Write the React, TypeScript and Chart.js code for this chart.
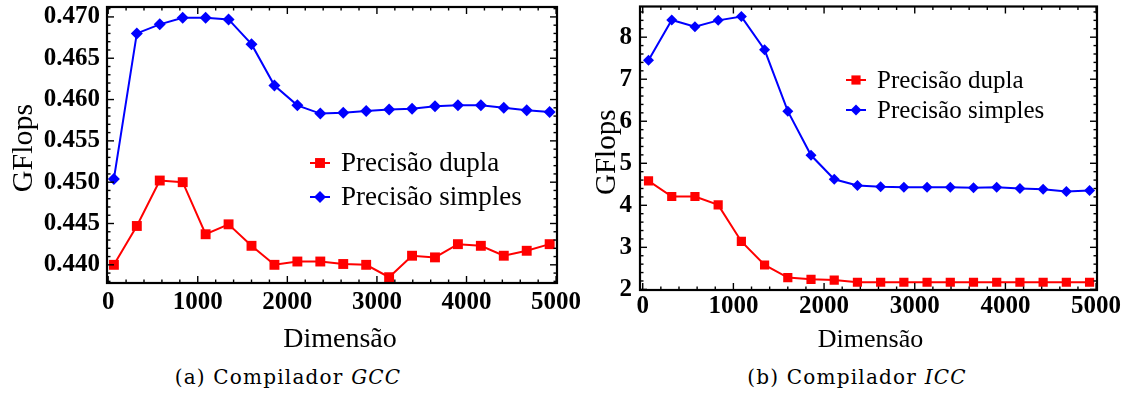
import React, { useEffect, useRef } from "react";
import { Chart, registerables } from "chart.js";
import { drawPoint } from "chart.js/helpers";

Chart.register(...registerables);

// Matrix dimension of each run
const dimensions = [64, 320, 576, 832, 1088, 1344, 1600, 1856, 2112, 2368, 2624, 2880, 3136, 3392, 3648, 3904, 4160, 4416, 4672, 4928];

// GFlops measured with GCC
const gccDouble = [0.44, 0.4447, 0.4502, 0.45, 0.4437, 0.4449, 0.4423, 0.44, 0.4404, 0.4404, 0.4401, 0.44, 0.4385, 0.4411, 0.4409, 0.4425, 0.4423, 0.4411, 0.4417, 0.4425];
const gccSingle = [0.4504, 0.468, 0.4691, 0.4699, 0.4699, 0.4697, 0.4667, 0.4617, 0.4593, 0.4583, 0.4584, 0.4586, 0.4588, 0.4589, 0.4592, 0.4593, 0.4593, 0.459, 0.4587, 0.4585];

// GFlops measured with ICC
const iccDouble = [4.58, 4.21, 4.21, 4.01, 3.14, 2.58, 2.28, 2.24, 2.22, 2.17, 2.17, 2.17, 2.17, 2.17, 2.17, 2.17, 2.17, 2.17, 2.17, 2.17];
const iccSingle = [7.45, 8.41, 8.25, 8.4, 8.49, 7.7, 6.24, 5.19, 4.62, 4.47, 4.44, 4.43, 4.43, 4.43, 4.42, 4.43, 4.4, 4.38, 4.33, 4.35];

const xTicks = [0, 1000, 2000, 3000, 4000, 5000];
const gccYTicks = [0.44, 0.445, 0.45, 0.455, 0.46, 0.465, 0.47];
const iccYTicks = [2, 3, 4, 5, 6, 7, 8];

const seriesNames = ["Precisão dupla", "Precisão simples"];
const xTitle = "Dimensão";
const yTitle = "GFlops";

const RED = "#ff0000";
const BLUE = "#0000ff";
const SERIF = "'Liberation Serif', 'Times New Roman', serif";

// Closed frame with inward major and minor ticks on all four sides
const framePlugin = {
  id: "frame",
  afterDatasetsDraw(chart: any, _args: any, opts: any) {
    const { ctx, chartArea: a, scales } = chart;
    const sx = scales.x;
    const sy = scales.y;
    ctx.save();
    ctx.strokeStyle = "#000";
    const seg = (x1: number, y1: number, x2: number, y2: number) => {
      ctx.beginPath();
      ctx.moveTo(x1, y1);
      ctx.lineTo(x2, y2);
      ctx.stroke();
    };
    const each = (scale: any, major: number[], minorStep: number, fn: (p: number, len: number) => void) => {
      const lo = Math.ceil(scale.min / minorStep - 1e-9);
      const hi = Math.floor(scale.max / minorStep + 1e-9);
      for (let n = lo; n <= hi; n++) {
        const v = n * minorStep;
        const isMajor = major.some((m) => Math.abs(m - v) < minorStep / 10);
        fn(scale.getPixelForValue(v), isMajor ? 7 : 3.5);
      }
    };
    ctx.lineWidth = 1.4;
    each(sx, opts.xMajor, opts.xMinor, (p, len) => {
      seg(p, a.bottom, p, a.bottom - len);
      seg(p, a.top, p, a.top + len);
    });
    each(sy, opts.yMajor, opts.yMinor, (p, len) => {
      seg(a.left, p, a.left + len, p);
      seg(a.right, p, a.right - len, p);
    });
    ctx.lineWidth = 2.2;
    ctx.strokeRect(a.left, a.top, a.right - a.left, a.bottom - a.top);
    ctx.restore();
  },
};

// Axis titles and in-plot legend
const textPlugin = {
  id: "texts",
  afterDraw(chart: any, _args: any, opts: any) {
    const { ctx, chartArea: a } = chart;
    ctx.save();
    ctx.fillStyle = "#000";
    ctx.textAlign = "center";
    ctx.textBaseline = "middle";
    ctx.font = `${opts.xTitleSize}px ${SERIF}`;
    ctx.fillText(xTitle, (a.left + a.right) / 2 + opts.xTitleShift, opts.xTitleY);
    ctx.font = `${opts.yTitleSize}px ${SERIF}`;
    ctx.translate(opts.yTitleX, (a.top + a.bottom) / 2 + opts.yTitleShift);
    ctx.rotate(-Math.PI / 2);
    ctx.fillText(yTitle, 0, 0);
    ctx.restore();

    ctx.save();
    const lg = opts.legend;
    ctx.font = `${lg.size}px ${SERIF}`;
    ctx.textAlign = "left";
    ctx.textBaseline = "middle";
    chart.data.datasets.forEach((ds: any, i: number) => {
      const y = lg.y + i * lg.gap;
      ctx.strokeStyle = ds.borderColor;
      ctx.lineWidth = ds.borderWidth;
      ctx.beginPath();
      ctx.moveTo(lg.x - 10, y);
      ctx.lineTo(lg.x + 10, y);
      ctx.stroke();
      ctx.fillStyle = ds.pointBackgroundColor;
      drawPoint(ctx, { pointStyle: ds.pointStyle, radius: ds.pointRadius, borderWidth: 0, rotation: 0 }, lg.x, y);
      ctx.fillStyle = "#000";
      ctx.fillText(ds.label, lg.x + 21, y + 1);
    });
    ctx.restore();
  },
};

type PanelProps = {
  width: number;
  height: number;
  left: number;
  double: number[];
  single: number[];
  yTicks: number[];
  yMin: number;
  yMax: number;
  xMin: number;
  xMax: number;
  yDecimals: number;
  yMinor: number;
  yAxisWidth: number;
  padTop: number;
  padRight: number;
  plotBottom: number;
  yTickPad: number;
  xTickPad: number;
  rectRadius: number;
  diamondRadius: number;
  texts: any;
};

function Panel(p: PanelProps) {
  const ref = useRef<HTMLCanvasElement>(null);
  useEffect(() => {
    const tickFont = { family: SERIF, size: 25, weight: "bold" as const };
    const chart = new Chart(ref.current!, {
      type: "line",
      data: {
        datasets: [
          {
            label: seriesNames[0],
            data: dimensions.map((d, i) => ({ x: d, y: p.double[i] })),
            borderColor: RED,
            backgroundColor: RED,
            pointBackgroundColor: RED,
            borderWidth: 2,
            pointStyle: "rect",
            pointRadius: p.rectRadius,
            pointBorderWidth: 0,
          },
          {
            label: seriesNames[1],
            data: dimensions.map((d, i) => ({ x: d, y: p.single[i] })),
            borderColor: BLUE,
            backgroundColor: BLUE,
            pointBackgroundColor: BLUE,
            borderWidth: 2,
            pointStyle: "rectRot",
            pointRadius: p.diamondRadius,
            pointBorderWidth: 0,
          },
        ],
      },
      options: {
        animation: false,
        responsive: false,
        maintainAspectRatio: false,
        layout: { padding: { top: p.padTop, right: p.padRight, left: 0, bottom: 0 } },
        plugins: {
          legend: { display: false },
          tooltip: { enabled: false },
          frame: { xMajor: xTicks, xMinor: 200, yMajor: p.yTicks, yMinor: p.yMinor },
          texts: p.texts,
        } as any,
        scales: {
          x: {
            type: "linear",
            min: p.xMin,
            max: p.xMax,
            grid: { display: false, drawTicks: false },
            border: { display: false },
            ticks: {
              font: tickFont,
              color: "#000",
              padding: p.xTickPad,
              maxRotation: 0,
              autoSkip: false,
              callback: (v: any) => String(v),
            },
            afterBuildTicks: (s: any) => {
              s.ticks = xTicks.map((value) => ({ value }));
            },
            afterFit: (s: any) => {
              s.height = p.height - p.plotBottom;
              s.paddingLeft = 0;
              s.paddingRight = 0;
            },
          },
          y: {
            type: "linear",
            min: p.yMin,
            max: p.yMax,
            grid: { display: false, drawTicks: false },
            border: { display: false },
            ticks: {
              font: tickFont,
              color: "#000",
              padding: p.yTickPad,
              autoSkip: false,
              callback: (v: any) => Number(v).toFixed(p.yDecimals),
            },
            afterBuildTicks: (s: any) => {
              s.ticks = p.yTicks.map((value) => ({ value }));
            },
            afterFit: (s: any) => {
              s.width = p.yAxisWidth;
              s.paddingTop = 0;
              s.paddingBottom = 0;
            },
          },
        },
      },
      plugins: [framePlugin, textPlugin],
    });
    return () => chart.destroy();
  }, []);
  return (
    <canvas
      ref={ref}
      width={p.width}
      height={p.height}
      style={{ position: "absolute", left: p.left, top: 0, width: p.width, height: p.height }}
    />
  );
}

const captionStyle: React.CSSProperties = {
  position: "absolute",
  top: 365,
  width: 400,
  textAlign: "center",
  fontFamily: "'DejaVu Serif', serif",
  fontSize: 20,
  letterSpacing: 1.2,
  color: "#000",
  whiteSpace: "nowrap",
};

export default function App() {
  return (
    <div style={{ position: "absolute", left: 0, top: 0, width: 1127, height: 400, background: "#fff", overflow: "hidden" }}>
      <Panel
        width={590}
        height={360}
        left={0}
        double={gccDouble}
        single={gccSingle}
        yTicks={gccYTicks}
        yMin={0.4378}
        yMax={0.4712}
        xMin={-13}
        xMax={5010}
        yDecimals={3}
        yMinor={0.001}
        yAxisWidth={107}
        padTop={5}
        padRight={33}
        plotBottom={283}
        yTickPad={7}
        xTickPad={5}
        rectRadius={7}
        diamondRadius={6}
        texts={{ xTitleSize: 28, yTitleSize: 30, xTitleShift: 8, xTitleY: 340, yTitleX: 24, yTitleShift: 3, legend: { x: 320, y: 163, gap: 34, size: 27 } }}
      />
      <Panel
        width={537}
        height={360}
        left={590}
        double={iccDouble}
        single={iccSingle}
        yTicks={iccYTicks}
        yMin={1.985}
        yMax={8.73}
        xMin={-30}
        xMax={5010}
        yDecimals={0}
        yMinor={0.2}
        yAxisWidth={50}
        padTop={6}
        padRight={30}
        plotBottom={290}
        yTickPad={8}
        xTickPad={2}
        rectRadius={6.5}
        diamondRadius={5.5}
        texts={{ xTitleSize: 26, yTitleSize: 29, xTitleShift: 2, xTitleY: 340, yTitleX: 17, yTitleShift: 4, legend: { x: 266, y: 80, gap: 30, size: 25 } }}
      />
      <div style={{ ...captionStyle, left: 288 - 200 }}>
        (a) Compilador <i>GCC</i>
      </div>
      <div style={{ ...captionStyle, left: 857 - 200 }}>
        (b) Compilador <i>ICC</i>
      </div>
    </div>
  );
}
